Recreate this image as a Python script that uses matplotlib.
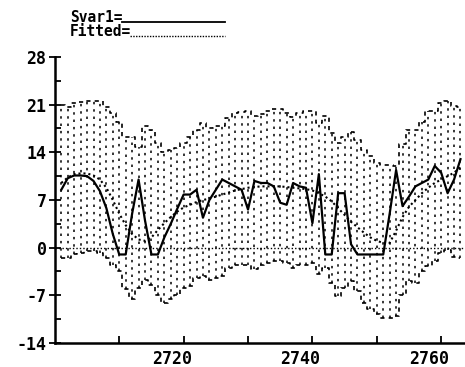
import numpy as np
import matplotlib
matplotlib.use("Agg")
import matplotlib.pyplot as plt
from matplotlib.lines import Line2D
from matplotlib.transforms import ScaledTranslation

x = list(range(2701, 2764))

upper = [21.0, 20.7, 21.2, 21.4, 21.5, 21.6, 21.5, 20.7, 19.8, 18.5,
         16.3, 16.3, 14.8, 17.8, 17.3, 15.4, 14.1, 14.4, 14.7, 15.4,
         16.3, 17.3, 18.3, 17.5, 17.8, 17.9, 19.1, 19.8, 19.9, 20.0,
         19.4, 19.7, 20.0, 20.4, 20.4, 19.8, 19.2, 19.8, 20.0, 20.0,
         18.3, 19.4, 16.9, 15.3, 16.3, 17.0, 15.8, 14.3, 13.4, 12.5,
         12.2, 12.2, 12.0, 15.2, 17.3, 17.3, 18.5, 20.0, 20.0, 21.2,
         21.5, 20.8, 20.7]

lower = [-1.5, -1.5, -1.0, -0.8, -0.5, -0.5, -0.8, -1.5, -2.5, -3.5,
         -6.1, -7.6, -5.9, -4.7, -5.5, -6.9, -8.1, -7.6, -6.9, -5.9,
         -5.7, -4.4, -4.1, -4.7, -4.4, -4.1, -3.0, -2.5, -2.5, -2.5,
         -3.2, -2.5, -2.3, -2.0, -2.0, -2.3, -3.0, -2.5, -2.5, -2.3,
         -3.8, -3.0, -5.2, -7.1, -5.9, -4.9, -6.4, -8.1, -9.0, -9.8,
         -10.3, -10.3, -10.1, -6.9, -4.9, -5.2, -3.5, -2.7, -2.0, -0.8,
         -0.3, -1.3, -1.5]

svar1 = [8.5, 10.2, 10.6, 10.6, 10.5, 9.8, 8.3, 5.8, 2.0, -1.0,
         -1.0, 5.0, 10.0, 4.0, -1.0, -1.0, 1.5, 3.5, 5.7, 7.8,
         7.8, 8.5, 4.4, 7.0, 8.5, 10.0, 9.5, 9.0, 8.5, 5.6,
         9.8, 9.5, 9.5, 9.0, 6.6, 6.3, 9.5, 9.0, 8.8, 3.6,
         10.8, -1.0, -1.0, 8.0, 8.0, 0.5, -1.0, -1.0, -1.0, -1.0,
         -1.0, 5.0, 11.4, 6.1, 7.5, 9.0, 9.5, 10.0, 12.0, 11.0,
         8.0, 10.0, 13.0]

fitted = [9.5, 10.3, 10.8, 10.9, 10.9, 10.6, 10.0, 8.8, 7.0, 5.0,
          3.3, 2.0, 1.2, 1.0, 1.5, 2.6, 3.6, 4.5, 5.3, 5.9,
          6.3, 6.7, 7.0, 7.2, 7.5, 7.8, 8.1, 8.4, 8.6, 8.8,
          8.9, 9.0, 9.0, 9.0, 9.0, 8.9, 8.8, 8.7, 8.6, 8.4,
          8.0, 7.5, 6.8, 5.8, 4.8, 3.8, 3.0, 2.2, 1.5, 1.0,
          0.7, 0.7, 2.5, 4.5, 6.0, 7.0, 8.0, 8.8, 9.5, 10.0,
          10.5, 11.0, 11.8]

yticks = [-14, -7, 0, 7, 14, 21, 28]
xlabels = [2720, 2740, 2760]

font = {"family": "DejaVu Sans Mono", "weight": "bold", "size": 12}
head = {"family": "DejaVu Sans Mono", "weight": "bold", "size": 10.5}

fig = plt.figure(figsize=(4.65, 3.67), dpi=100)
ax = fig.add_axes([0.118, 0.0654, 0.882, 0.7793])

# band of vertical dotted lines
ax.vlines(x, lower, upper, colors="black", linewidth=1.1, linestyles=(0, (1.6, 3.2)))
ax.plot(x, upper, color="black", lw=1.2, ls=(0, (2.5, 2.5)), drawstyle="steps-mid")
ax.plot(x, lower, color="black", lw=1.2, ls=(0, (2.5, 2.5)), drawstyle="steps-mid")

ax.axhline(0, color="black", lw=1.0, ls=(0, (1, 1.5)))
ax.plot(x, fitted, color="black", lw=1.5, ls=(0, (1, 1.4)))
ax.plot(x, svar1, color="black", lw=1.6)

ax.set_xlim(2700, 2763.7)
ax.set_ylim(-14, 28)
ax.spines["top"].set_visible(False)
ax.spines["right"].set_visible(False)
ax.spines["left"].set_linewidth(1.8)
ax.spines["bottom"].set_linewidth(1.8)

ax.set_yticks(yticks)
ax.set_yticklabels([str(v) for v in yticks], fontdict=font)
ax.set_yticks(np.arange(-10.5, 28, 7), minor=True)
ax.tick_params(axis="y", which="major", direction="inout", length=8, width=1.3, pad=2)
ax.tick_params(axis="y", which="minor", direction="in", length=4, width=1.3)

ax.set_xticks(range(2710, 2764, 10))
ax.set_xticklabels(["" if v not in xlabels else str(v) for v in range(2710, 2764, 10)],
                   fontdict=font)
ax.tick_params(axis="x", which="major", direction="in", length=5, width=1.3, pad=5)
shift = ScaledTranslation(-12 / 100, 0, fig.dpi_scale_trans)
for lab in ax.get_xticklabels():
    lab.set_transform(lab.get_transform() + shift)

# legend-like header
fig.text(70 / 465, 1 - 22 / 367, "Svar1=", fontdict=head, va="baseline")
fig.text(70 / 465, 1 - 36 / 367, "Fitted=", fontdict=head, va="baseline")
fig.add_artist(Line2D([122 / 465, 225 / 465], [1 - 22 / 367, 1 - 22 / 367],
                      color="black", lw=1.3, transform=fig.transFigure))
fig.add_artist(Line2D([130 / 465, 225 / 465], [1 - 36 / 367, 1 - 36 / 367],
                      color="black", lw=1.0, ls=(0, (1, 1)), transform=fig.transFigure))

fig.savefig("out.png", dpi=100)
